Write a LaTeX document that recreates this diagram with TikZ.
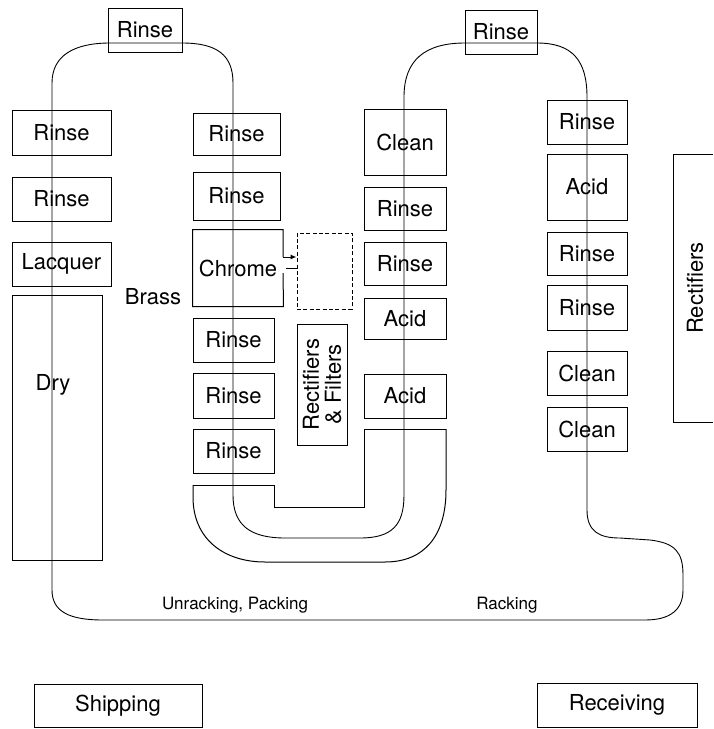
\documentclass[tikz,border=0pt]{standalone}
\usepackage{fontspec}
\setmainfont{TeX Gyre Heros}
\usetikzlibrary{arrows.meta}

\begin{document}
\begin{tikzpicture}[x=0.5pt, y=-0.5pt, line width=0.5pt,
  tank/.style={draw, inner sep=0pt, minimum width=#1, minimum height=22pt, font=\fontsize{11}{11}\selectfont},
  tank/.default=40pt,
  tanktext/.style={inner sep=0pt, font=\fontsize{11}{11}\selectfont},
  floortext/.style={inner sep=0pt, font=\fontsize{8.5}{10}\selectfont},
  belt/.style={line width=0.45pt},
  trough/.style={line width=0.5pt}]

\useasboundingbox (0,0) rectangle (713,729);

\node[tank=37pt] (rinseTopL) at (145,30) {Rinse};
\node[tank=36pt] (rinseTopR) at (501,32) {Rinse};

\node[tank=49.5pt, minimum height=22.5pt] (rinseA1) at (61.5,132.5) {Rinse};
\node[tank=49.5pt] (rinseA2) at (61.5,199) {Rinse};
\node[tank=49.5pt] (lacquer) at (61.5,264) {Lacquer};
\node[tank=45pt, minimum height=132.5pt] (dry) at (57,427.5) {};
\node[tanktext] (drytext) at (53,385) {Dry};
\node[tanktext] (brass) at (153,297) {Brass};

\node[tank=43.5pt, minimum height=21pt] (rinseB1) at (236.5,134) {Rinse};
\node[tank=43.5pt, minimum height=24pt] (rinseB2) at (236.5,196) {Rinse};
\node[tank=45pt, minimum height=38pt, draw=none] (chrome) at (238,268) {Chrome};
\node[tank=40.5pt] (rinseB3) at (233.5,340) {Rinse};
\node[tank=40.5pt, minimum height=22.5pt] (rinseB4) at (233.5,395.5) {Rinse};
\node[tank=40.5pt] (rinseB5) at (233.5,451) {Rinse};

\node[tank=27.5pt, minimum height=38pt, dash pattern=on 2pt off 1.2pt] (chromecell) at (324.5,271) {};
\node[tank=60.5pt, minimum height=25pt, rotate=90, align=center] (rectfilters) at (322,384.5) {Rectifiers\\\& Filters};

\node[tank=41pt, minimum height=33pt] (cleanC1) at (405,142) {Clean};
\node[tank=41pt, minimum height=21.5pt] (rinseC1) at (405,208.5) {Rinse};
\node[tank=41pt, minimum height=21.5pt] (rinseC2) at (405,263.5) {Rinse};
\node[tank=41pt, minimum height=20.5pt] (acidC1) at (405,318.5) {Acid};
\node[tank=41pt] (acidC2) at (405,396) {Acid};

\node[tank] (rinseD1) at (587,122) {Rinse};
\node[tank, minimum height=33pt] (acidD) at (587,187) {Acid};
\node[tank, minimum height=21.5pt] (rinseD2) at (587,253.5) {Rinse};
\node[tank, minimum height=22.5pt] (rinseD3) at (587,307.5) {Rinse};
\node[tank] (cleanD1) at (587,373) {Clean};
\node[tank] (cleanD2) at (587,429) {Clean};

\draw (713,154) -- (673,154) -- (673,422) -- (713,422);
\node[tanktext, rotate=90] (rectifiers) at (695,288) {Rectifiers};

\coordinate (chromeout) at (283,257);
\draw (chromeout) |- (chrome.north west) |- (chrome.south east) -- (283,273);
\draw[-{Latex[length=3pt,width=2.5pt]}] (chromeout) -- (chromeout -| chromecell.west);
\draw (chromecell.west |- 0,268) -- (286,268);

\draw[trough] (193,485) -- (274,485) -- (274,507) -- (364,507) -- (364,429) -- (446,429);
\draw[trough] (193,485) -- (193,497) .. controls (193,540) and (225,562) .. (265,562)
  -- (385,562) .. controls (425,562) and (446,535) .. (446,490) -- (446,429);

\draw[belt] (52,590) -- (52,83) .. controls (52,55) and (75,43) .. (110,43)
  -- (182,43) .. controls (217,43) and (233,55) .. (233,83)
  -- (233,495) .. controls (233,525) and (250,538) .. (285,538)
  -- (360,538) .. controls (392,538) and (404,525) .. (404,495)
  -- (404,97) .. controls (404,60) and (425,43) .. (465,43)
  -- (537,43) .. controls (572,43) and (587,60) .. (587,97)
  -- (587,510) .. controls (587,532) and (600,538) .. (620,538)
  -- (650,540) .. controls (675,543) and (683,552) .. (683,575)
  -- (683,590) .. controls (683,610) and (670,620) .. (645,620)
  -- (103,620) .. controls (70,620) and (52,612) .. (52,590);

\node[floortext] (unracking) at (235,605) {Unracking, Packing};
\node[floortext] (racking) at (507,605) {Racking};

\node[tank=84pt, minimum height=21.5pt] (shipping) at (118,705.5) {Shipping};
\node[tank=80pt] (receiving) at (617,705) {Receiving};

\end{tikzpicture}
\end{document}
